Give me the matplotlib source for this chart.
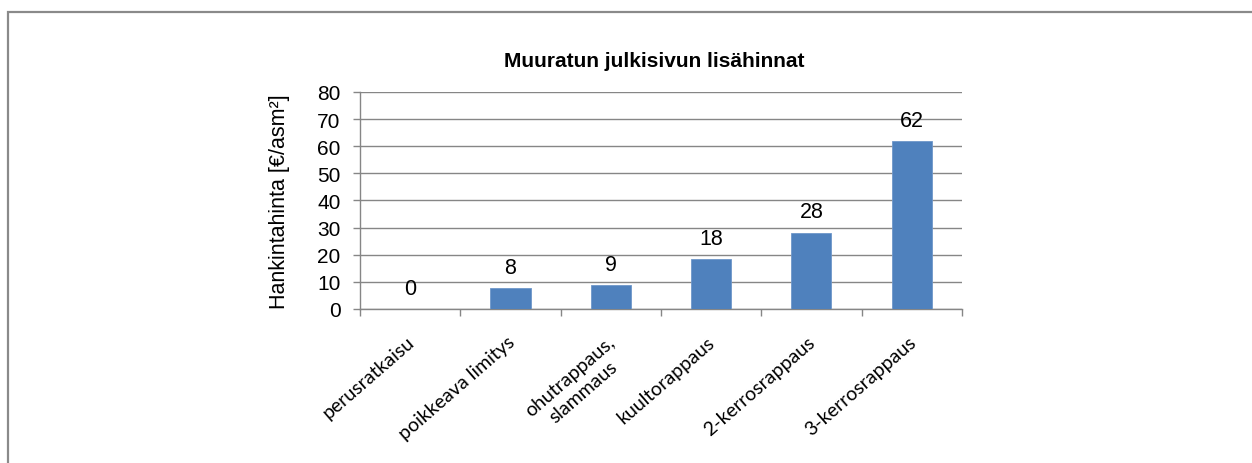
import matplotlib
matplotlib.use("Agg")
import matplotlib.pyplot as plt
import matplotlib.transforms as mtransforms
from matplotlib.patches import Rectangle

# =============================================================================
# DATOS
# =============================================================================
categorias = ["perusratkaisu", "poikkeava limitys", "ohutrappaus,\nslammaus",
              "kuultorappaus", "2-kerrosrappaus", "3-kerrosrappaus"]
valores = [0, 7.7, 8.8, 18.4, 28.2, 61.8]
y_ticks = [0, 10, 20, 30, 40, 50, 60, 70, 80]

titulo = "Muuratun julkisivun lisähinnat"
etiqueta_y = "Hankintahinta [€/asm²]"

plt.rcParams['font.family'] = ['Liberation Sans', 'DejaVu Sans']

# =============================================================================
# FIGURA
# =============================================================================
fig = plt.figure(figsize=(12.52, 4.64), dpi=100)
ax = fig.add_axes([0.2875, 0.3319, 0.4808, 0.4677])

x = list(range(len(categorias)))
ax.bar(x, valores, width=0.4, color='#4F81BD', edgecolor='#6f97c9', lw=0.6, zorder=3)

# etiquetas de datos
for xi, v in zip(x, valores):
    ax.annotate(f"{round(v)}", (xi, v), xytext=(0, 15.1), textcoords='offset points',
                ha='center', va='center', fontsize=15.5, color='black')

ax.set_xlim(-0.5, len(categorias) - 0.5)
ax.set_ylim(0, 80)
ax.set_yticks(y_ticks)
ax.tick_params(axis='y', labelsize=15, length=5, width=1, color='#868686', pad=9)
ax.grid(True, axis='y', color='#868686', lw=1, zorder=0)

# ticks del eje x en los bordes de categoria
ax.set_xticks([i - 0.5 for i in range(len(categorias) + 1)])
ax.set_xticklabels([])
ax.tick_params(axis='x', length=5, width=1, color='#868686')

for lado in ['top', 'right']:
    ax.spines[lado].set_visible(False)
for lado in ['left', 'bottom']:
    ax.spines[lado].set_color('#868686')
    ax.spines[lado].set_linewidth(1)

# etiquetas de categoria rotadas
trans = mtransforms.blended_transform_factory(ax.transData, ax.transAxes)
desplaz = mtransforms.ScaledTranslation(-4 / 100, -24 / 100, fig.dpi_scale_trans)
for xi, nombre in zip(x, categorias):
    ax.text(xi, 0, nombre, transform=trans + desplaz, rotation=41,
            rotation_mode='anchor', ha='right', va='top',
            multialignment='center', fontsize=14, family=['Lato', 'DejaVu Sans'])

ax.set_ylabel(etiqueta_y, fontsize=15.5)
ax.yaxis.set_label_coords(-0.1163, 0.5)

fig.text(654 / 1252, 1 - 67.3 / 464, titulo, ha='center', va='baseline',
         fontsize=15, fontweight='bold')

# marco exterior gris
fig.add_artist(Rectangle((7.5 / 1252, -0.1), 2, 1 - 12.5 / 464 + 0.1,
                         transform=fig.transFigure, fill=False,
                         ec='#8a8a8a', lw=1.6))

fig.savefig("out.png", dpi=100)
